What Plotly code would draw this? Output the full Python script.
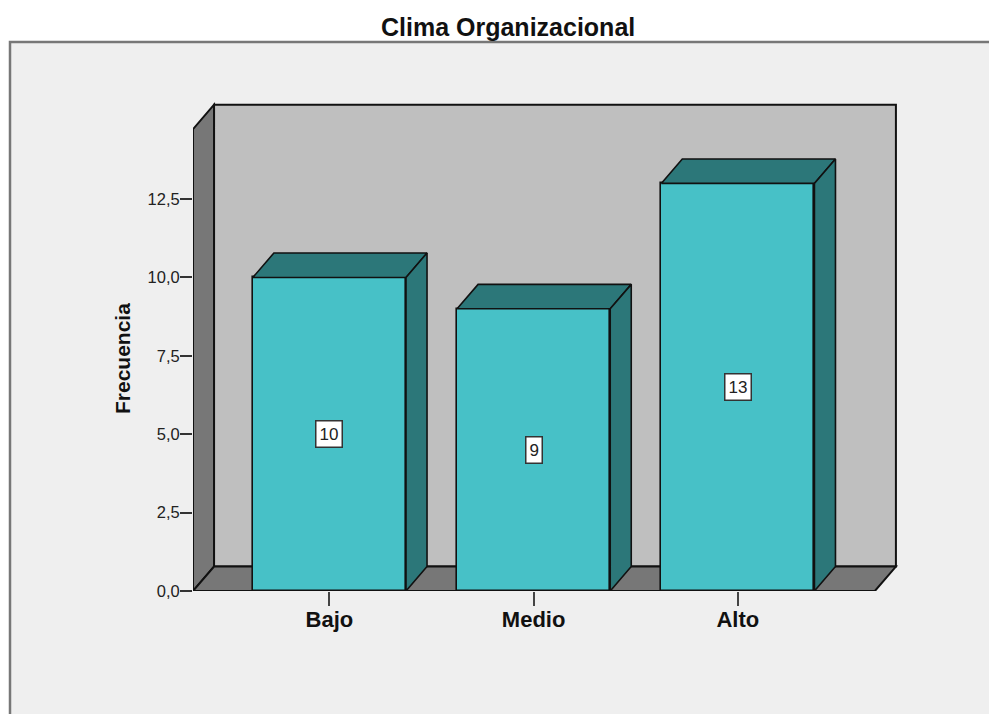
import plotly.graph_objects as go

categories = ["Bajo", "Medio", "Alto"]
frecuencia = [10, 9, 13]
y_ticks = [0, 2.5, 5, 7.5, 10, 12.5]

TEAL = "#47c1c7"
TEAL_DARK = "#2c7779"
WALL = "#bfbfbf"
SIDE = "#777777"
EDGE = "#111111"
FONT = "Liberation Sans"

W, H = 989, 714
L, R, T, B = 193, 988 - 899, 100, 714 - 591
BAR_W = 0.75
DX, DY = 0.103, 0.78      # oblique depth in data units
X_MIN, X_MAX = -0.668, 2.774
Y_TOP = 14.73             # height of the front edge of the left wall
PAD_X, PAD_Y = 0.02, 0.15

fig = go.Figure()


def face(xs, ys, color):
    fig.add_trace(go.Scatter(
        x=xs + xs[:1], y=ys + ys[:1], mode="lines", fill="toself", fillcolor=color,
        line=dict(color=EDGE, width=1.6), hoverinfo="skip", showlegend=False, cliponaxis=False,
    ))


def path(xs, ys):
    pts = [f"{x},{y}" for x, y in zip(xs, ys)]
    return "M" + " L".join(pts) + " Z"


wall_line = dict(color=EDGE, width=2)
shapes = [
    # outer panel of the chart, in pixel-derived paper units
    dict(type="rect", xref="paper", yref="paper", layer="below",
         x0=(10 - L) / (W - L - R), x1=(W + 20 - L) / (W - L - R),
         y0=(H - B - (H + 20)) / (H - T - B), y1=(H - B - 42) / (H - T - B),
         fillcolor="#efefef", line=dict(color="#777777", width=2.5)),
    dict(type="path", layer="below", xref="x", yref="y", fillcolor=WALL, line=wall_line,
         path=path([X_MIN + DX, X_MAX, X_MAX, X_MIN + DX], [DY, DY, Y_TOP + DY, Y_TOP + DY])),
    dict(type="path", layer="below", xref="x", yref="y", fillcolor=SIDE, line=wall_line,
         path=path([X_MIN, X_MIN + DX, X_MIN + DX, X_MIN], [0, DY, Y_TOP + DY, Y_TOP])),
    dict(type="path", layer="below", xref="x", yref="y", fillcolor=SIDE, line=wall_line,
         path=path([X_MIN, X_MAX - DX, X_MAX, X_MIN + DX], [0, 0, DY, DY])),
]

fig.add_trace(go.Bar(
    x=list(range(len(categories))), y=frecuencia, width=BAR_W,
    marker=dict(color=TEAL, line=dict(color=EDGE, width=1.6)),
    hoverinfo="x+y", showlegend=False,
))

for i, v in enumerate(frecuencia):
    a, b = i - BAR_W / 2, i + BAR_W / 2
    face([a, b, b + DX, a + DX], [v, v, v + DY, v + DY], TEAL_DARK)
    face([b, b + DX, b + DX, b], [0, DY, v + DY, v], TEAL_DARK)

# front base line and left edge, which would otherwise be clipped at the plot border
fig.add_trace(go.Scatter(
    x=[X_MIN, X_MIN, X_MAX - DX], y=[Y_TOP, 0, 0], mode="lines",
    line=dict(color=EDGE, width=2), hoverinfo="skip", showlegend=False, cliponaxis=False,
))

annotations = [
    dict(x=i, y=v / 2, xref="x", yref="y", text=str(v), showarrow=False,
         font=dict(family=FONT, size=17, color="#222222"),
         bgcolor="#ffffff", bordercolor="#333333", borderwidth=1.5, borderpad=3)
    for i, v in enumerate(frecuencia)
]
annotations += [
    dict(x=(122 - L) / (W - L - R), y=(H - B - 359) / (H - T - B), xref="paper", yref="paper",
         xanchor="center", yanchor="middle",
         text="<b>Frecuencia</b>", textangle=-90, showarrow=False,
         font=dict(family=FONT, size=21, color="#111111")),
    dict(x=(507.5 - L) / (W - L - R), y=(H - B - 27) / (H - T - B), xref="paper", yref="paper",
         xanchor="center", yanchor="middle",
         text="<b>Clima Organizacional</b>", showarrow=False,
         font=dict(family=FONT, size=25, color="#111111")),
]

fig.update_layout(
    width=W, height=H, autosize=False,
    margin=dict(l=L, r=R, t=T, b=B, pad=0),
    paper_bgcolor="#ffffff", plot_bgcolor="rgba(0,0,0,0)",
    separators=",.", bargap=0, shapes=shapes, annotations=annotations,
    xaxis=dict(
        range=[X_MIN, X_MAX + PAD_X], tickmode="array",
        tickvals=list(range(len(categories))), ticktext=[f"<b>{c}</b>" for c in categories],
        ticks="outside", ticklen=14, tickwidth=2, tickcolor="#444444", ticklabelstandoff=-5,
        tickfont=dict(family=FONT, size=22, color="#111111"),
        showgrid=False, zeroline=False, showline=False,
    ),
    yaxis=dict(
        range=[0, Y_TOP + DY + PAD_Y], tickmode="array", tickvals=y_ticks,
        tickformat=".1f", ticks="outside", ticklen=12, tickwidth=2, tickcolor="#333333", ticklabelstandoff=-3,
        tickfont=dict(family=FONT, size=16.5, color="#222222"),
        showgrid=False, zeroline=False, showline=False,
    ),
)

fig.write_html(
    "out.html",
    config={"displayModeBar": False},
    post_script="document.body.style.margin='0';document.documentElement.style.overflow='hidden';",
)
